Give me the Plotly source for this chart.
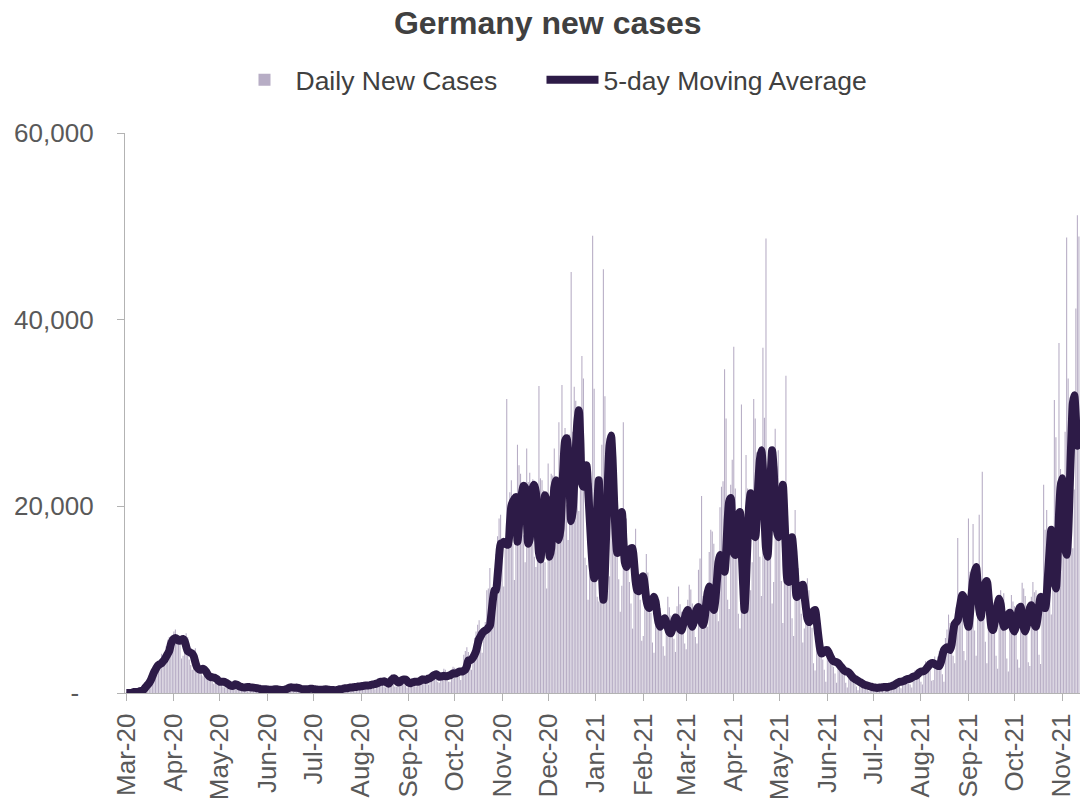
import pandas as pd
import plotly.graph_objects as go

# ---------------- data (thousands of cases), one row per week, Sunday first ----------------
START_DATE = "2020-03-01"
END_DATE = "2021-11-12"

DAILY_NEW_CASES_K = [
    0.07, 0.02, 0.04, 0.05, 0.1, 0.2, 0.2,
    0.2, 0.1, 0.3, 0.3, 0.4, 0.9, 0.7,
    1.0, 1.2, 1.4, 1.1, 2.8, 3.0, 2.7,
    3.3, 3.1, 4.2, 3.5, 4.1, 5.0, 5.7,
    6.0, 4.7, 4.5, 6.6, 6.8, 6.2, 6.1,
    5.9, 3.7, 4.0, 5.3, 6.4, 6.0, 3.6,
    3.0, 2.5, 4.5, 4.8, 3.4, 3.6, 2.4,
    2.0, 1.8, 2.2, 2.9, 2.4, 2.1, 1.7,
    1.2, 1.0, 1.3, 1.6, 1.5, 1.6, 1.1,
    0.7, 0.6, 1.0, 1.3, 1.2, 1.0, 0.6,
    0.6, 0.5, 0.8, 0.9, 0.8, 0.6, 0.6,
    0.4, 0.3, 0.7, 0.8, 0.6, 0.7, 0.4,
    0.3, 0.2, 0.4, 0.5, 0.5, 0.4, 0.3,
    0.3, 0.2, 0.3, 0.5, 0.4, 0.4, 0.3,
    0.2, 0.2, 0.3, 0.4, 0.3, 0.6, 0.5,
    0.4, 0.3, 0.6, 0.7, 0.7, 0.6, 0.6,
    0.5, 0.4, 0.5, 0.6, 0.5, 0.5, 0.4,
    0.3, 0.3, 0.4, 0.5, 0.5, 0.4, 0.4,
    0.3, 0.2, 0.4, 0.4, 0.4, 0.4, 0.4,
    0.2, 0.2, 0.3, 0.4, 0.4, 0.4, 0.5,
    0.3, 0.3, 0.6, 0.6, 0.6, 0.8, 0.7,
    0.4, 0.4, 0.6, 0.9, 0.9, 0.9, 0.8,
    0.5, 0.5, 0.8, 0.8, 1.0, 1.1, 0.9,
    0.6, 0.4, 1.2, 1.3, 1.4, 1.5, 1.3,
    0.7, 0.6, 1.4, 1.7, 1.6, 2.0, 1.5,
    0.7, 0.7, 1.5, 1.6, 1.5, 1.5, 1.4,
    0.8, 0.6, 1.2, 1.3, 1.6, 1.6, 1.3,
    0.7, 0.8, 1.2, 1.8, 1.9, 1.7, 1.5,
    1.0, 0.9, 1.6, 2.2, 2.3, 2.3, 2.0,
    1.2, 1.1, 1.9, 2.1, 2.6, 2.5, 2.0,
    1.2, 1.2, 2.2, 2.8, 2.7, 2.6, 2.3,
    1.8, 1.4, 2.6, 4.1, 4.5, 4.9, 4.4,
    3.5, 2.5, 4.1, 5.9, 6.6, 7.3, 7.8,
    5.6, 4.3, 6.9, 7.6, 11.0, 11.2, 13.4,
    11.2, 8.7, 11.4, 14.9, 16.8, 18.7, 19.1,
    14.2, 11.4, 15.4, 31.5, 19.9, 21.5, 22.8,
    16.0, 12.1, 18.5, 26.6, 24.4, 23.5, 22.1,
    16.9, 14.0, 26.2, 22.6, 23.6, 21.8, 22.9,
    14.6, 13.5, 18.6, 32.9, 23.0, 22.8, 21.7,
    14.0, 11.2, 24.6, 20.8, 23.5, 23.3, 26.2,
    17.8, 16.4, 29.0, 20.8, 33.0, 25.2, 28.4,
    20.2, 16.4, 27.7, 45.1, 28.0, 32.8, 31.3,
    22.8, 19.5, 24.7, 36.1, 33.7, 14.5, 13.7,
    10.0, 12.9, 22.5, 49.0, 32.6, 22.9, 10.3,
    9.8, 21.2, 26.6, 45.4, 31.8, 25.6, 16.4,
    12.5, 19.6, 22.2, 25.2, 22.4, 18.6, 12.2,
    8.7, 11.5, 29.0, 17.5, 18.7, 14.0, 11.9,
    9.6, 6.9, 13.2, 17.6, 14.2, 12.3, 10.0,
    5.6, 6.1, 10.9, 14.9, 12.9, 10.2, 8.6,
    5.4, 4.3, 9.3, 10.2, 10.0, 9.1, 7.0,
    5.0, 4.0, 7.8, 10.3, 9.2, 8.3, 6.6,
    5.8, 4.4, 9.3, 11.4, 9.5, 8.7, 7.8,
    5.3, 4.7, 10.0, 11.6, 11.1, 9.6, 8.0,
    6.0, 5.3, 13.2, 14.4, 21.1, 10.4, 8.3,
    7.7, 7.1, 15.1, 17.5, 17.3, 16.0, 12.7,
    10.8, 7.7, 19.9, 22.1, 22.7, 34.7, 29.4,
    10.0, 9.0, 22.3, 25.0, 37.1, 21.9, 17.5,
    8.5, 6.9, 30.9, 9.7, 9.6, 25.5, 21.9,
    17.8, 11.0, 14.0, 31.5, 29.4, 25.8, 19.0,
    14.6, 10.4, 37.0, 29.5, 48.7, 23.7, 19.0,
    16.5, 9.6, 11.9, 28.3, 24.3, 26.0, 18.8,
    12.0, 7.5, 20.6, 34.0, 18.0, 15.7, 12.7,
    8.0, 6.1, 19.6, 14.5, 13.4, 11.4, 8.5,
    5.4, 6.9, 8.9, 12.3, 11.0, 7.8, 7.0,
    3.2, 2.4, 6.0, 6.5, 5.1, 4.7, 3.6,
    2.5, 1.2, 4.9, 5.0, 4.6, 3.3, 2.8,
    2.1, 1.1, 3.2, 3.2, 3.1, 2.4, 1.9,
    1.1, 0.6, 2.4, 2.2, 1.9, 1.6, 1.3,
    0.7, 0.3, 1.4, 1.3, 1.2, 1.0, 0.8,
    0.4, 0.2, 0.9, 0.8, 0.7, 0.6, 0.5,
    0.3, 0.2, 0.7, 0.8, 0.8, 0.7, 0.7,
    0.4, 0.2, 1.0, 1.1, 1.2, 1.3, 1.2,
    0.7, 0.5, 1.5, 1.6, 1.5, 1.6, 1.4,
    0.9, 0.6, 2.1, 2.4, 2.2, 2.1, 1.9,
    1.2, 0.9, 2.5, 3.4, 3.2, 3.4, 2.8,
    1.3, 1.4, 3.9, 3.5, 3.9, 4.5, 3.9,
    2.0, 1.2, 5.9, 6.8, 8.4, 7.5, 6.8,
    4.0, 3.2, 9.2, 16.6, 10.5, 10.8, 9.3,
    4.5, 3.5, 9.7, 18.7, 13.0, 12.1, 18.1,
    6.7, 4.0, 11.0, 19.1, 12.2, 23.7, 9.4,
    5.5, 3.2, 10.5, 11.9, 10.4, 9.7, 8.0,
    4.0, 2.6, 8.6, 11.0, 10.0, 10.7, 7.9,
    3.7, 2.3, 7.1, 10.5, 9.8, 9.3, 7.0,
    3.6, 2.7, 9.4, 11.8, 11.2, 10.4, 8.4,
    3.3, 2.9, 10.3, 11.9, 10.8, 11.0, 8.2,
    4.1, 3.1, 10.5, 22.3, 17.5, 19.6, 14.7,
    10.5, 8.4, 13.2, 31.4, 27.4, 18.6, 37.5,
    24.0, 15.5, 16.4, 28.0, 48.8, 33.7, 30.0,
    20.6, 15.5, 21.8, 41.2, 51.2, 48.9,
]

MOVING_AVERAGE_K = [
    0.0, 0.0, 0.0, 0.0, 0.05, 0.1, 0.1,
    0.1, 0.1, 0.2, 0.2, 0.3, 0.5, 0.7,
    0.9, 1.1, 1.4, 1.8, 2.2, 2.5, 2.8,
    3.0, 3.1, 3.2, 3.4, 3.6, 3.9, 4.2,
    4.5, 5.2, 5.6, 5.8, 5.9, 5.8, 5.6,
    5.6, 5.7, 5.8, 5.6, 5.0, 4.5, 4.4,
    4.3, 4.2, 3.9, 3.3, 2.8, 2.6, 2.5,
    2.5, 2.6, 2.5, 2.3, 2.0, 1.8, 1.7,
    1.7, 1.65, 1.6, 1.5, 1.3, 1.2, 1.2,
    1.2, 1.2, 1.1, 1.0, 0.9, 0.8, 0.75,
    0.8, 0.95, 0.9, 0.8, 0.7, 0.65, 0.6,
    0.6, 0.62, 0.65, 0.65, 0.6, 0.6, 0.58,
    0.55, 0.5, 0.5, 0.45, 0.4, 0.4, 0.4,
    0.4, 0.38, 0.36, 0.35, 0.35, 0.38, 0.4,
    0.4, 0.36, 0.34, 0.32, 0.3, 0.35, 0.4,
    0.45, 0.55, 0.6, 0.6, 0.58, 0.55, 0.6,
    0.55, 0.5, 0.45, 0.42, 0.4, 0.4, 0.4,
    0.42, 0.45, 0.45, 0.42, 0.4, 0.38, 0.36,
    0.35, 0.35, 0.36, 0.38, 0.4, 0.38, 0.35,
    0.33, 0.32, 0.33, 0.3, 0.3, 0.35, 0.4,
    0.42, 0.45, 0.5, 0.5, 0.5, 0.55, 0.6,
    0.6, 0.62, 0.65, 0.65, 0.7, 0.7, 0.72,
    0.75, 0.78, 0.8, 0.8, 0.82, 0.85, 0.9,
    0.9, 0.95, 1.0, 1.05, 1.15, 1.2, 1.2,
    1.25, 1.2, 1.1, 1.0, 1.2, 1.4, 1.55,
    1.55, 1.35, 1.15, 1.15, 1.3, 1.4, 1.45,
    1.45, 1.3, 1.1, 1.05, 1.1, 1.15, 1.2,
    1.2, 1.2, 1.25, 1.35, 1.45, 1.45, 1.4,
    1.45, 1.55, 1.6, 1.7, 1.85, 1.95, 2.0,
    1.9, 1.75, 1.75, 1.8, 1.85, 1.8, 1.8,
    1.85, 1.9, 2.0, 2.1, 2.1, 2.1, 2.2,
    2.3, 2.3, 2.3, 2.4, 2.5, 2.9, 3.5,
    3.5, 3.6, 3.8, 4.1, 4.5, 5.2, 5.8,
    6.1, 6.4, 6.6, 6.7, 6.8, 7.0, 7.2,
    8.5, 10.0, 11.0, 11.0, 12.5, 14.5, 16.0,
    16.0, 16.2, 16.0, 15.9, 15.9, 18.0, 20.0,
    20.5, 20.8, 21.0, 16.2, 18.0, 20.5, 21.5,
    22.2, 22.0, 19.0, 16.0, 16.5, 19.5, 22.0,
    22.3, 21.5, 18.0, 15.0, 14.3, 17.0, 20.0,
    21.2, 20.5, 17.0, 14.6, 15.5, 19.0, 22.0,
    22.8, 21.0, 16.4, 17.5, 21.0, 24.5, 27.0,
    27.3, 26.0, 22.0, 18.4, 19.5, 22.5, 26.0,
    29.0, 30.3, 27.0, 22.5, 22.1, 23.5, 24.4,
    22.0, 19.0, 16.0, 13.5, 12.3, 15.0, 20.0,
    22.8, 18.0, 13.0, 10.0, 13.0, 18.0, 23.0,
    26.5, 27.6, 25.0, 20.5, 17.0, 15.0, 17.0,
    19.0, 19.4, 16.5, 14.0, 13.5, 14.5, 15.3,
    15.5, 15.5, 14.0, 12.0, 11.0, 10.9, 11.5,
    12.3, 12.5, 11.5, 10.0, 9.3, 9.1, 9.5,
    10.0, 10.3, 9.8, 8.5, 7.5, 7.1, 7.4,
    7.8, 8.0, 7.6, 7.0, 6.5, 6.4, 6.9,
    7.6, 8.1, 7.9, 7.2, 6.8, 6.7, 7.3,
    8.0, 8.6, 8.9, 8.3, 7.5, 7.1, 7.6,
    8.5, 9.0, 9.2, 8.5, 7.6, 7.3, 8.0,
    9.5, 10.8, 11.4, 10.5, 9.3, 8.9, 10.0,
    12.0, 14.0, 14.8, 14.3, 13.5, 13.0, 15.0,
    18.5, 20.5, 20.9, 18.0, 15.0, 14.8, 17.0,
    19.0, 19.4, 16.0, 12.0, 8.9, 12.0, 16.5,
    20.0, 21.4, 19.5, 17.0, 16.7, 19.0, 22.5,
    25.0, 26.0, 24.0, 19.0, 15.5, 14.6, 18.0,
    23.0, 26.0, 24.0, 20.0, 17.5, 16.7, 18.5,
    21.0, 22.3, 19.0, 15.0, 12.0, 11.9, 14.0,
    16.7, 15.0, 12.5, 10.3, 10.5, 11.0, 11.5,
    11.6, 10.5, 9.2, 8.0, 7.6, 7.8, 8.3,
    8.8, 8.9, 7.8, 6.3, 5.0, 4.25, 4.3,
    4.5, 4.6, 4.6, 4.3, 3.9, 3.6, 3.4,
    3.35, 3.3, 3.2, 3.0, 2.8, 2.6, 2.4,
    2.3, 2.3, 2.2, 2.0, 1.8, 1.6, 1.5,
    1.4, 1.3, 1.2, 1.1, 1.0, 0.9, 0.85,
    0.8, 0.75, 0.7, 0.65, 0.6, 0.6, 0.55,
    0.55, 0.6, 0.6, 0.62, 0.65, 0.65, 0.6,
    0.65, 0.7, 0.75, 0.8, 0.9, 1.0, 1.1,
    1.2, 1.2, 1.25, 1.3, 1.4, 1.5, 1.5,
    1.55, 1.65, 1.75, 1.8, 1.85, 2.0, 2.2,
    2.3, 2.3, 2.35, 2.5, 2.7, 2.9, 3.1,
    3.2, 3.2, 3.1, 3.0, 2.9, 2.9, 3.3,
    4.0, 4.6, 4.8, 4.9, 4.8, 4.6, 5.2,
    6.5, 7.4, 7.6, 7.8, 8.8, 9.8, 10.5,
    10.2, 9.0, 7.8, 7.1, 8.5, 10.5, 12.1,
    13.0, 13.5, 11.5, 9.0, 8.1, 9.5, 11.0,
    11.8, 12.0, 10.5, 8.5, 7.0, 6.75, 7.5,
    8.5, 9.5, 10.1, 9.5, 8.0, 7.1, 7.2,
    7.8, 8.4, 8.6, 7.8, 6.9, 6.6, 7.2,
    8.3, 9.0, 9.25, 8.2, 7.0, 6.6, 7.2,
    8.3, 9.1, 9.4, 8.5, 7.4, 7.1, 8.0,
    9.3, 10.3, 9.8, 9.2, 9.1, 10.5, 13.0,
    15.5, 17.5, 15.0, 12.0, 11.2, 14.0, 19.0,
    22.0, 23.0, 19.0, 15.5, 14.8, 17.0, 22.0,
    27.0, 31.0, 31.9, 29.5, 26.5, 27.2,
]

Y_TICK_VALUES = [0, 20000, 40000, 60000]
Y_TICK_LABELS = [
    "-<span style='color:rgba(0,0,0,0)'>0</span>",
    "20,000", "40,000", "60,000",
]

# ---------------- styling ----------------
BAR_COLOR = "rgba(123,106,150,0.55)"
LINE_COLOR = "#2d1b47"
AXIS_COLOR = "#b3b3b3"
TEXT_COLOR = "#595959"
TITLE_COLOR = "#404040"
FONT = "Liberation Sans, Arial, sans-serif"

dates = pd.date_range(START_DATE, END_DATE, freq="D")
daily = [v * 1000 for v in DAILY_NEW_CASES_K]
moving_avg = [v * 1000 for v in MOVING_AVERAGE_K]

fig = go.Figure()
fig.add_trace(go.Bar(
    x=dates, y=daily, name="Daily New Cases",
    marker=dict(color=BAR_COLOR, line=dict(width=0)),
    hoverinfo="x+y", legendwidth=241,
))
fig.add_trace(go.Scatter(
    x=dates, y=moving_avg, name="5-day Moving Average", mode="lines",
    line=dict(color=LINE_COLOR, width=8, shape="spline", smoothing=0.6,
              simplify=False),
))

fig.update_layout(
    width=1089, height=799,
    margin=dict(l=125, r=9, t=133, b=106, autoexpand=False),
    paper_bgcolor="white", plot_bgcolor="white",
    bargap=0.3,
    font=dict(family=FONT, color=TEXT_COLOR, size=26),
    title=dict(
        text="Germany new cases", x=0.503, xref="container", xanchor="center",
        y=0.972, yref="container", yanchor="middle",
        font=dict(family=FONT, size=32, color=TITLE_COLOR, weight="bold"),
    ),
    legend=dict(
        orientation="h", xref="container", yref="container",
        x=0.5078, xanchor="center", y=0.9, yanchor="middle",
        font=dict(family=FONT, size=26.5, color=TITLE_COLOR),
        bgcolor="rgba(0,0,0,0)", itemwidth=52,
    ),
    showlegend=True,
)

fig.update_xaxes(
    type="date",
    range=["2020-02-29 03:30", "2021-11-12 17:00"],
    tick0=START_DATE, dtick="M1", tickformat="%b-%y",
    tickangle=-90, ticks="outside", ticklen=7, tickcolor=AXIS_COLOR,
    ticklabelstandoff=2,
    showline=True, linecolor=AXIS_COLOR, linewidth=1.3,
    showgrid=False, zeroline=False, automargin=False,
    tickfont=dict(family=FONT, size=26, color=TEXT_COLOR),
)
fig.update_yaxes(
    range=[0, 60000], tickvals=Y_TICK_VALUES, ticktext=Y_TICK_LABELS,
    ticks="outside", ticklen=7, tickcolor=AXIS_COLOR,
    ticklabelstandoff=18,
    showline=True, linecolor=AXIS_COLOR, linewidth=1.3,
    showgrid=False, zeroline=False, automargin=False,
    tickfont=dict(family=FONT, size=26, color=TEXT_COLOR),
)

fig.write_html(
    "out.html",
    config={"displayModeBar": False},
    post_script="document.body.style.margin='0px';document.body.style.overflow='hidden';",
)
